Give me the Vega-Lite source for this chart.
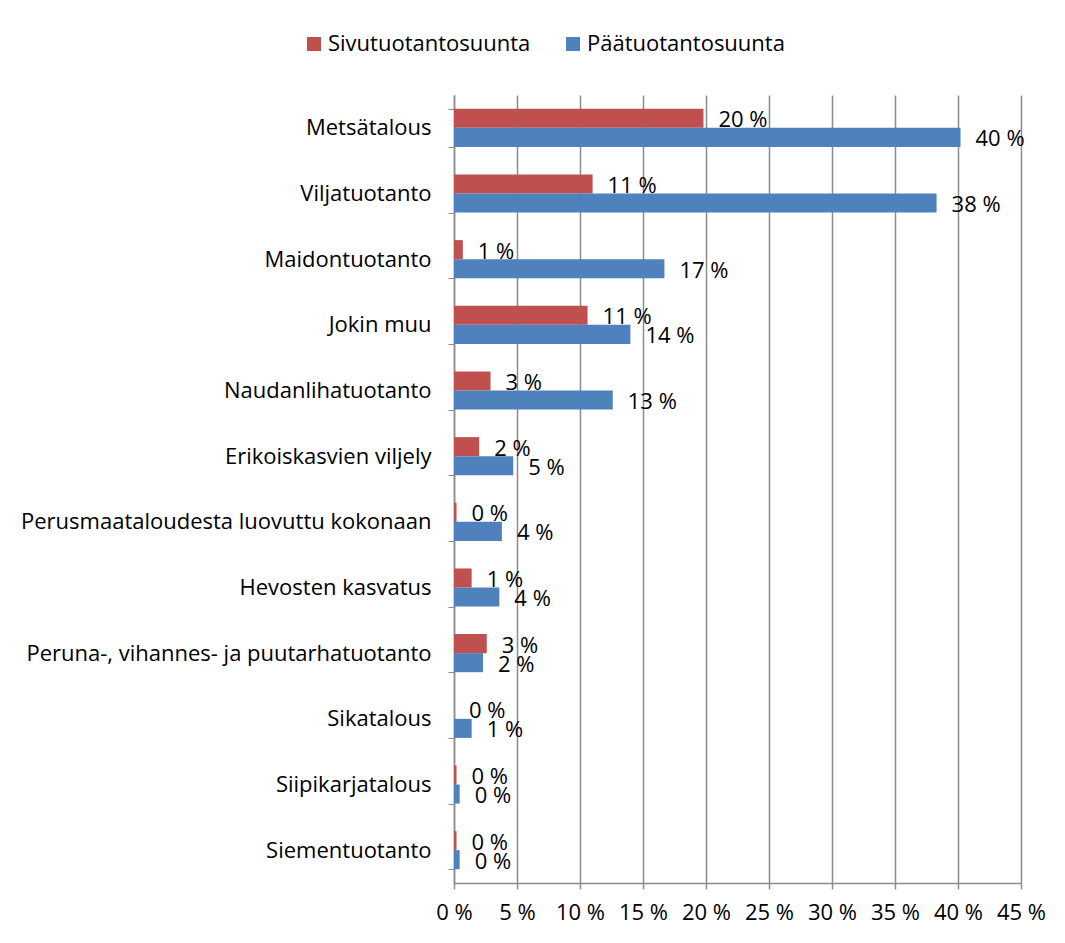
{
  "$schema": "https://vega.github.io/schema/vega-lite/v6.json",
  "autosize": {"type": "none"},
  "width": 567,
  "height": 788,
  "padding": {"left": 454, "top": 95, "right": 44, "bottom": 60},
  "background": "white",
  "config": {
    "font": "Open Sans",
    "view": {"stroke": null},
    "axis": {"labelFont": "Open Sans", "labelFontSize": 22, "labelColor": "#000000"},
    "legend": {"labelFont": "Open Sans", "labelFontSize": 22, "labelColor": "#000000"}
  },
  "data": {
    "values": [
      {"category": "Metsätalous", "series": "Sivutuotantosuunta", "value": 19.8},
      {"category": "Metsätalous", "series": "Päätuotantosuunta", "value": 40.2},
      {"category": "Viljatuotanto", "series": "Sivutuotantosuunta", "value": 11.0},
      {"category": "Viljatuotanto", "series": "Päätuotantosuunta", "value": 38.3},
      {"category": "Maidontuotanto", "series": "Sivutuotantosuunta", "value": 0.7},
      {"category": "Maidontuotanto", "series": "Päätuotantosuunta", "value": 16.7},
      {"category": "Jokin muu", "series": "Sivutuotantosuunta", "value": 10.6},
      {"category": "Jokin muu", "series": "Päätuotantosuunta", "value": 14.0},
      {"category": "Naudanlihatuotanto", "series": "Sivutuotantosuunta", "value": 2.9},
      {"category": "Naudanlihatuotanto", "series": "Päätuotantosuunta", "value": 12.6},
      {"category": "Erikoiskasvien viljely", "series": "Sivutuotantosuunta", "value": 2.0},
      {"category": "Erikoiskasvien viljely", "series": "Päätuotantosuunta", "value": 4.7},
      {"category": "Perusmaataloudesta luovuttu kokonaan", "series": "Sivutuotantosuunta", "value": 0.2},
      {"category": "Perusmaataloudesta luovuttu kokonaan", "series": "Päätuotantosuunta", "value": 3.8},
      {"category": "Hevosten kasvatus", "series": "Sivutuotantosuunta", "value": 1.4},
      {"category": "Hevosten kasvatus", "series": "Päätuotantosuunta", "value": 3.6},
      {"category": "Peruna-, vihannes- ja puutarhatuotanto", "series": "Sivutuotantosuunta", "value": 2.6},
      {"category": "Peruna-, vihannes- ja puutarhatuotanto", "series": "Päätuotantosuunta", "value": 2.3},
      {"category": "Sikatalous", "series": "Sivutuotantosuunta", "value": 0.0},
      {"category": "Sikatalous", "series": "Päätuotantosuunta", "value": 1.4},
      {"category": "Siipikarjatalous", "series": "Sivutuotantosuunta", "value": 0.2},
      {"category": "Siipikarjatalous", "series": "Päätuotantosuunta", "value": 0.45},
      {"category": "Siementuotanto", "series": "Sivutuotantosuunta", "value": 0.2},
      {"category": "Siementuotanto", "series": "Päätuotantosuunta", "value": 0.45}
    ]
  },
  "transform": [
    {"calculate": "format(datum.value, '.0f') + ' %'", "as": "label"}
  ],
  "encoding": {
    "y": {
      "field": "category",
      "type": "nominal",
      "sort": null,
      "scale": {"paddingInner": 0.42, "paddingOuter": 0.21},
      "axis": {
        "title": null,
        "tickBand": "extent",
        "tickSize": 6,
        "tickColor": "#8c8c8c",
        "domainColor": "#8c8c8c",
        "domainWidth": 1.5,
        "labelPadding": 17,
        "labelLimit": 500
      }
    },
    "yOffset": {
      "field": "series",
      "type": "nominal",
      "sort": ["Sivutuotantosuunta", "Päätuotantosuunta"],
      "scale": {"domain": ["Sivutuotantosuunta", "Päätuotantosuunta"], "paddingInner": 0, "paddingOuter": 0}
    },
    "x": {
      "field": "value",
      "type": "quantitative",
      "scale": {"domain": [0, 45], "nice": false},
      "axis": {
        "title": null,
        "values": [0, 5, 10, 15, 20, 25, 30, 35, 40, 45],
        "labelExpr": "datum.value + ' %'",
        "grid": true,
        "gridColor": "#8c8c8c",
        "gridWidth": 1.5,
        "tickColor": "#8c8c8c",
        "tickWidth": 1.5,
        "tickSize": 6,
        "domainColor": "#8c8c8c",
        "domainWidth": 1.5,
        "labelPadding": 13,
        "labelFlush": false
      }
    }
  },
  "layer": [
    {
      "mark": {"type": "bar"},
      "encoding": {
        "color": {
          "field": "series",
          "type": "nominal",
          "scale": {"domain": ["Sivutuotantosuunta", "Päätuotantosuunta"], "range": ["#C0504D", "#4F81BD"]},
          "legend": {
            "title": null,
            "orient": "none",
            "direction": "horizontal",
            "legendX": -151,
            "legendY": -62,
            "symbolType": "square",
            "symbolSize": 196,
            "symbolStrokeWidth": 0,
            "labelOffset": 3,
            "labelLimit": 400,
            "columnPadding": 31
          }
        }
      }
    },
    {
      "mark": {"type": "text", "align": "left", "baseline": "middle", "dx": 15, "dy": 2, "fontSize": 22, "font": "Open Sans", "color": "#000000"},
      "encoding": {
        "text": {"field": "label"}
      }
    }
  ]
}
